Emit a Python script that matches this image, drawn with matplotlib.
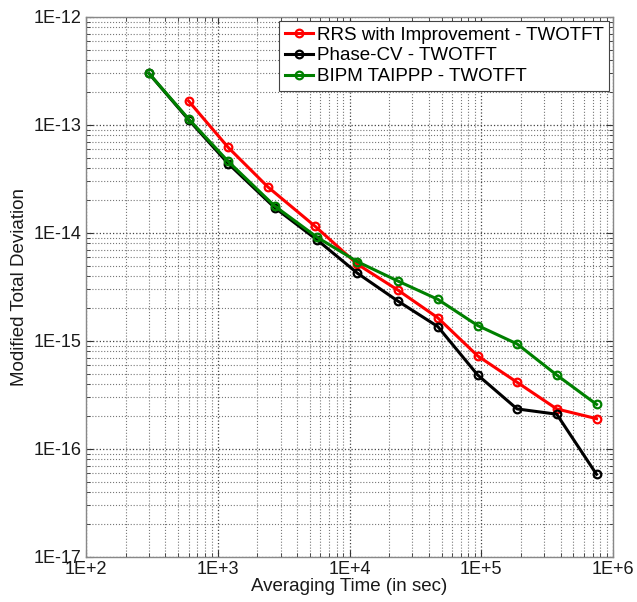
import matplotlib
matplotlib.use("Agg")
import matplotlib.pyplot as plt
from matplotlib.ticker import LogLocator, FixedLocator, NullFormatter

plt.rcParams['font.family'] = ['Liberation Sans', 'DejaVu Sans']

# Averaging times (s)
tau_rrs = [600, 1200, 2400, 5500, 11500, 23200, 46800, 94000, 187000, 374000, 750000]
tau_cv = [300, 600, 1200, 2700, 5700, 11500, 23200, 46800, 94000, 187000, 374000, 750000]
tau_bipm = [300, 600, 1200, 2700, 5700, 11500, 23200, 46800, 94000, 187000, 374000, 750000]

# Modified total deviation
mtot_rrs = [1.67e-13, 6.2e-14, 2.67e-14, 1.15e-14, 5.13e-15, 2.97e-15, 1.64e-15,
            7.27e-16, 4.15e-16, 2.35e-16, 1.91e-16]
mtot_cv = [3.01e-13, 1.12e-13, 4.4e-14, 1.72e-14, 8.6e-15, 4.24e-15, 2.35e-15,
           1.36e-15, 4.84e-16, 2.35e-16, 2.10e-16, 5.83e-17]
mtot_bipm = [3.01e-13, 1.14e-13, 4.6e-14, 1.78e-14, 9.1e-15, 5.42e-15, 3.60e-15,
             2.43e-15, 1.39e-15, 9.4e-16, 4.84e-16, 2.59e-16]

labels = ["RRS with Improvement - TWOTFT", "Phase-CV - TWOTFT", "BIPM TAIPPP - TWOTFT"]
xticklabels = ["1E+2", "1E+3", "1E+4", "1E+5", "1E+6"]
yticklabels = ["1E-17", "1E-16", "1E-15", "1E-14", "1E-13", "1E-12"]

fig = plt.figure(figsize=(6.37, 6.02), dpi=100)
ax = fig.add_axes([86 / 637, 1 - 557 / 602, 527 / 637, 540 / 602])

style = dict(lw=2.2, marker='o', markersize=5.5, markerfacecolor='none', markeredgewidth=1.6)
ax.plot(tau_rrs, mtot_rrs, color='#ff0000', label=labels[0], **style)
ax.plot(tau_cv, mtot_cv, color='black', label=labels[1], **style)
ax.plot(tau_bipm, mtot_bipm, color='#008000', label=labels[2], **style)

ax.set_xscale('log')
ax.set_yscale('log')
ax.set_xlim(1e2, 1e6)
ax.set_ylim(1e-17, 1e-12)

ax.xaxis.set_major_locator(FixedLocator([1e2, 1e3, 1e4, 1e5, 1e6]))
ax.yaxis.set_major_locator(FixedLocator([1e-17, 1e-16, 1e-15, 1e-14, 1e-13, 1e-12]))
ax.set_xticklabels(xticklabels)
ax.set_yticklabels(yticklabels)
ax.xaxis.set_minor_locator(LogLocator(base=10, subs=range(2, 10), numticks=20))
ax.yaxis.set_minor_locator(LogLocator(base=10, subs=range(2, 10), numticks=20))
ax.xaxis.set_minor_formatter(NullFormatter())
ax.yaxis.set_minor_formatter(NullFormatter())

ax.tick_params(which='both', direction='in', top=True, right=True, colors='#333333',
               labelcolor='#1a1a1a', labelsize=13)
ax.tick_params(which='major', length=5, width=0.8, pad=3)
ax.tick_params(which='minor', length=3, width=0.6)

ax.grid(True, which='major', linestyle=':', color='#444444', linewidth=0.9)
ax.grid(True, which='minor', linestyle=':', color='#777777', linewidth=0.8)
ax.set_axisbelow(True)

for s in ax.spines.values():
    s.set_color('#888888')
    s.set_linewidth(1.0)

ax.set_xlabel("Averaging Time (in sec)", fontsize=13.5, color='#1a1a1a', labelpad=0)
ax.set_ylabel("Modified Total Deviation", fontsize=13.5, color='#1a1a1a', labelpad=4)

leg = ax.legend(loc='upper right', fontsize=13.5, frameon=True, fancybox=False,
                edgecolor='#444444', framealpha=1.0, handlelength=1.5,
                handletextpad=0.2, borderpad=0.3, labelspacing=0.2,
                borderaxespad=0.2)
leg.get_frame().set_linewidth(0.8)

fig.savefig("out.png", dpi=100)
